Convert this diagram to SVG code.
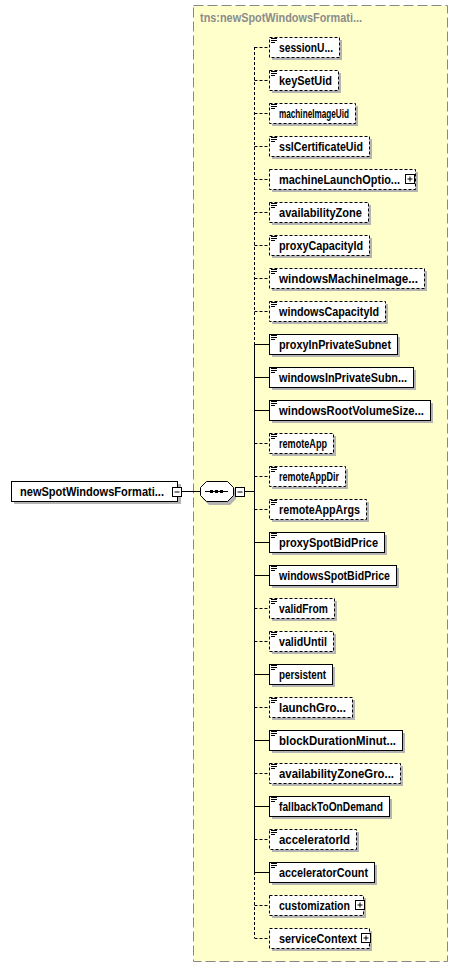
<svg xmlns="http://www.w3.org/2000/svg" width="458" height="969" viewBox="0 0 458 969">
<style>
.bg{fill:#ffffcc;stroke:#888;stroke-width:1;stroke-dasharray:10,4}
.title{font-family:"Liberation Sans",Arial,sans-serif;font-size:12px;font-weight:bold;fill:#8c8c8c}
.sh{fill:#b4b4b4}
.box{fill:#fff;stroke:#000;stroke-width:1}
.opt{stroke-dasharray:3,2}
.t{font-family:"Liberation Sans",Arial,sans-serif;font-size:12px;font-weight:bold;fill:#000}
.ln{stroke:#000;stroke-width:1;fill:none}
.dl{stroke:#000;stroke-width:1;fill:none;stroke-dasharray:3,2}
.ic{stroke:#000;stroke-width:1;fill:none}
.pm{fill:#fff;stroke:#000;stroke-width:1}
</style>
<defs>
<path id="icon" d="M271 38.5h6M271 40.5h6M271 42.5h4" class="ic"/>
</defs>
<rect class="bg" x="193.5" y="5.5" width="254" height="956"/>
<text class="title" x="200" y="22" textLength="162" lengthAdjust="spacingAndGlyphs">tns:newSpotWindowsFormati...</text>

<g id="connectors">
<line class="ln" x1="182" y1="491.5" x2="200" y2="491.5"/>
<line class="ln" x1="244" y1="491.5" x2="254.5" y2="491.5"/>
<line class="dl" x1="254.5" y1="47" x2="254.5" y2="344"/>
<line class="ln" x1="254.5" y1="344" x2="254.5" y2="872"/>
<line class="dl" x1="254.5" y1="872" x2="254.5" y2="938"/>
<path class="dl" d="M254.5 47.5H269M254.5 80.5H269M254.5 113.5H269M254.5 146.5H269M254.5 179.5H269M254.5 212.5H269M254.5 245.5H269M254.5 278.5H269M254.5 311.5H269M254.5 443.5H269M254.5 476.5H269M254.5 509.5H269M254.5 608.5H269M254.5 641.5H269M254.5 707.5H269M254.5 773.5H269M254.5 839.5H269M254.5 905.5H269M254.5 938.5H269"/>
<path class="ln" d="M254.5 344.5H269M254.5 377.5H269M254.5 410.5H269M254.5 542.5H269M254.5 575.5H269M254.5 674.5H269M254.5 740.5H269M254.5 806.5H269M254.5 872.5H269"/>
</g>

<g id="root">
<rect class="sh" x="14" y="484" width="167" height="20"/>
<rect class="box" x="11.5" y="481.5" width="166" height="20"/>
<text class="t" x="20" y="496" textLength="144" lengthAdjust="spacingAndGlyphs">newSpotWindowsFormati...</text>
<rect class="pm" x="172.5" y="487.5" width="9" height="9"/>
<path class="ln" d="M174.5 492h5"/>
</g>

<g id="sequence">
<path class="sh" d="M209 484h21l6 6v9l-6 6h-21l-6-6v-9z"/>
<path class="box" d="M206.5 481.5h21l6 6v8l-6 6h-21l-6-6v-8z"/>
<path class="ln" d="M205 491.5h23"/>
<rect x="210" y="490" width="3" height="3" fill="#000"/>
<rect x="215" y="490" width="3" height="3" fill="#000"/>
<rect x="220" y="490" width="3" height="3" fill="#000"/>
<rect class="pm" x="235.5" y="487.5" width="9" height="9"/>
<path class="ln" d="M237.5 492h5"/>
</g>

<g id="e1" transform="translate(0,0)"><rect class="sh" x="272" y="40" width="70" height="20"/><rect class="box opt" x="269.5" y="37.5" width="70" height="20"/><use href="#icon"/><text class="t" x="279" y="52" textLength="54" lengthAdjust="spacingAndGlyphs">sessionU...</text></g>
<g id="e2" transform="translate(0,33)"><rect class="sh" x="272" y="40" width="69" height="20"/><rect class="box opt" x="269.5" y="37.5" width="69" height="20"/><use href="#icon"/><text class="t" x="279" y="52" textLength="53" lengthAdjust="spacingAndGlyphs">keySetUid</text></g>
<g id="e3" transform="translate(0,66)"><rect class="sh" x="272" y="40" width="86" height="20"/><rect class="box opt" x="269.5" y="37.5" width="86" height="20"/><use href="#icon"/><text class="t" x="279" y="52" textLength="70" lengthAdjust="spacingAndGlyphs">machineImageUid</text></g>
<g id="e4" transform="translate(0,99)"><rect class="sh" x="272" y="40" width="100" height="20"/><rect class="box opt" x="269.5" y="37.5" width="100" height="20"/><use href="#icon"/><text class="t" x="279" y="52" textLength="84" lengthAdjust="spacingAndGlyphs">sslCertificateUid</text></g>
<g id="e5" transform="translate(0,132)"><rect class="sh" x="272" y="40" width="146" height="20"/><rect class="box opt" x="269.5" y="37.5" width="146" height="20"/><text class="t" x="279" y="52" textLength="121" lengthAdjust="spacingAndGlyphs">machineLaunchOptio...</text><rect class="pm" x="405.5" y="42.5" width="9" height="9"/><path class="ln" d="M407.5 47h5M410 44.5v5"/></g>
<g id="e6" transform="translate(0,165)"><rect class="sh" x="272" y="40" width="99" height="20"/><rect class="box opt" x="269.5" y="37.5" width="99" height="20"/><use href="#icon"/><text class="t" x="279" y="52" textLength="83" lengthAdjust="spacingAndGlyphs">availabilityZone</text></g>
<g id="e7" transform="translate(0,198)"><rect class="sh" x="272" y="40" width="100" height="20"/><rect class="box opt" x="269.5" y="37.5" width="100" height="20"/><use href="#icon"/><text class="t" x="279" y="52" textLength="84" lengthAdjust="spacingAndGlyphs">proxyCapacityId</text></g>
<g id="e8" transform="translate(0,231)"><rect class="sh" x="272" y="40" width="155" height="20"/><rect class="box opt" x="269.5" y="37.5" width="155" height="20"/><use href="#icon"/><text class="t" x="279" y="52" textLength="139" lengthAdjust="spacingAndGlyphs">windowsMachineImage...</text></g>
<g id="e9" transform="translate(0,264)"><rect class="sh" x="272" y="40" width="116" height="20"/><rect class="box opt" x="269.5" y="37.5" width="116" height="20"/><use href="#icon"/><text class="t" x="279" y="52" textLength="100" lengthAdjust="spacingAndGlyphs">windowsCapacityId</text></g>
<g id="e10" transform="translate(0,297)"><rect class="sh" x="272" y="40" width="128" height="20"/><rect class="box" x="269.5" y="37.5" width="128" height="20"/><use href="#icon"/><text class="t" x="279" y="52" textLength="112" lengthAdjust="spacingAndGlyphs">proxyInPrivateSubnet</text></g>
<g id="e11" transform="translate(0,330)"><rect class="sh" x="272" y="40" width="144" height="20"/><rect class="box" x="269.5" y="37.5" width="144" height="20"/><use href="#icon"/><text class="t" x="279" y="52" textLength="128" lengthAdjust="spacingAndGlyphs">windowsInPrivateSubn...</text></g>
<g id="e12" transform="translate(0,363)"><rect class="sh" x="272" y="40" width="161" height="20"/><rect class="box" x="269.5" y="37.5" width="161" height="20"/><use href="#icon"/><text class="t" x="279" y="52" textLength="145" lengthAdjust="spacingAndGlyphs">windowsRootVolumeSize...</text></g>
<g id="e13" transform="translate(0,396)"><rect class="sh" x="272" y="40" width="64" height="20"/><rect class="box opt" x="269.5" y="37.5" width="64" height="20"/><use href="#icon"/><text class="t" x="279" y="52" textLength="48" lengthAdjust="spacingAndGlyphs">remoteApp</text></g>
<g id="e14" transform="translate(0,429)"><rect class="sh" x="272" y="40" width="76" height="20"/><rect class="box opt" x="269.5" y="37.5" width="76" height="20"/><use href="#icon"/><text class="t" x="279" y="52" textLength="60" lengthAdjust="spacingAndGlyphs">remoteAppDir</text></g>
<g id="e15" transform="translate(0,462)"><rect class="sh" x="272" y="40" width="97" height="20"/><rect class="box opt" x="269.5" y="37.5" width="97" height="20"/><use href="#icon"/><text class="t" x="279" y="52" textLength="81" lengthAdjust="spacingAndGlyphs">remoteAppArgs</text></g>
<g id="e16" transform="translate(0,495)"><rect class="sh" x="272" y="40" width="115" height="20"/><rect class="box" x="269.5" y="37.5" width="115" height="20"/><use href="#icon"/><text class="t" x="279" y="52" textLength="99" lengthAdjust="spacingAndGlyphs">proxySpotBidPrice</text></g>
<g id="e17" transform="translate(0,528)"><rect class="sh" x="272" y="40" width="127" height="20"/><rect class="box" x="269.5" y="37.5" width="127" height="20"/><use href="#icon"/><text class="t" x="279" y="52" textLength="111" lengthAdjust="spacingAndGlyphs">windowsSpotBidPrice</text></g>
<g id="e18" transform="translate(0,561)"><rect class="sh" x="272" y="40" width="65" height="20"/><rect class="box opt" x="269.5" y="37.5" width="65" height="20"/><use href="#icon"/><text class="t" x="279" y="52" textLength="49" lengthAdjust="spacingAndGlyphs">validFrom</text></g>
<g id="e19" transform="translate(0,594)"><rect class="sh" x="272" y="40" width="64" height="20"/><rect class="box opt" x="269.5" y="37.5" width="64" height="20"/><use href="#icon"/><text class="t" x="279" y="52" textLength="48" lengthAdjust="spacingAndGlyphs">validUntil</text></g>
<g id="e20" transform="translate(0,627)"><rect class="sh" x="272" y="40" width="63" height="20"/><rect class="box" x="269.5" y="37.5" width="63" height="20"/><use href="#icon"/><text class="t" x="279" y="52" textLength="47" lengthAdjust="spacingAndGlyphs">persistent</text></g>
<g id="e21" transform="translate(0,660)"><rect class="sh" x="272" y="40" width="83" height="20"/><rect class="box opt" x="269.5" y="37.5" width="83" height="20"/><use href="#icon"/><text class="t" x="279" y="52" textLength="67" lengthAdjust="spacingAndGlyphs">launchGro...</text></g>
<g id="e22" transform="translate(0,693)"><rect class="sh" x="272" y="40" width="133" height="20"/><rect class="box" x="269.5" y="37.5" width="133" height="20"/><use href="#icon"/><text class="t" x="279" y="52" textLength="117" lengthAdjust="spacingAndGlyphs">blockDurationMinut...</text></g>
<g id="e23" transform="translate(0,726)"><rect class="sh" x="272" y="40" width="131" height="20"/><rect class="box opt" x="269.5" y="37.5" width="131" height="20"/><use href="#icon"/><text class="t" x="279" y="52" textLength="115" lengthAdjust="spacingAndGlyphs">availabilityZoneGro...</text></g>
<g id="e24" transform="translate(0,759)"><rect class="sh" x="272" y="40" width="120" height="20"/><rect class="box" x="269.5" y="37.5" width="120" height="20"/><use href="#icon"/><text class="t" x="279" y="52" textLength="104" lengthAdjust="spacingAndGlyphs">fallbackToOnDemand</text></g>
<g id="e25" transform="translate(0,792)"><rect class="sh" x="272" y="40" width="87" height="20"/><rect class="box opt" x="269.5" y="37.5" width="87" height="20"/><use href="#icon"/><text class="t" x="279" y="52" textLength="71" lengthAdjust="spacingAndGlyphs">acceleratorId</text></g>
<g id="e26" transform="translate(0,825)"><rect class="sh" x="272" y="40" width="105" height="20"/><rect class="box" x="269.5" y="37.5" width="105" height="20"/><use href="#icon"/><text class="t" x="279" y="52" textLength="89" lengthAdjust="spacingAndGlyphs">acceleratorCount</text></g>
<g id="e27" transform="translate(0,858)"><rect class="sh" x="272" y="40" width="94" height="20"/><rect class="box opt" x="269.5" y="37.5" width="94" height="20"/><text class="t" x="279" y="52" textLength="71" lengthAdjust="spacingAndGlyphs">customization</text><rect class="pm" x="355.5" y="42.5" width="9" height="9"/><path class="ln" d="M357.5 47h5M360 44.5v5"/></g>
<g id="e28" transform="translate(0,891)"><rect class="sh" x="272" y="40" width="100" height="20"/><rect class="box opt" x="269.5" y="37.5" width="100" height="20"/><text class="t" x="279" y="52" textLength="78" lengthAdjust="spacingAndGlyphs">serviceContext</text><rect class="pm" x="361.5" y="42.5" width="9" height="9"/><path class="ln" d="M363.5 47h5M366 44.5v5"/></g>
</svg>
